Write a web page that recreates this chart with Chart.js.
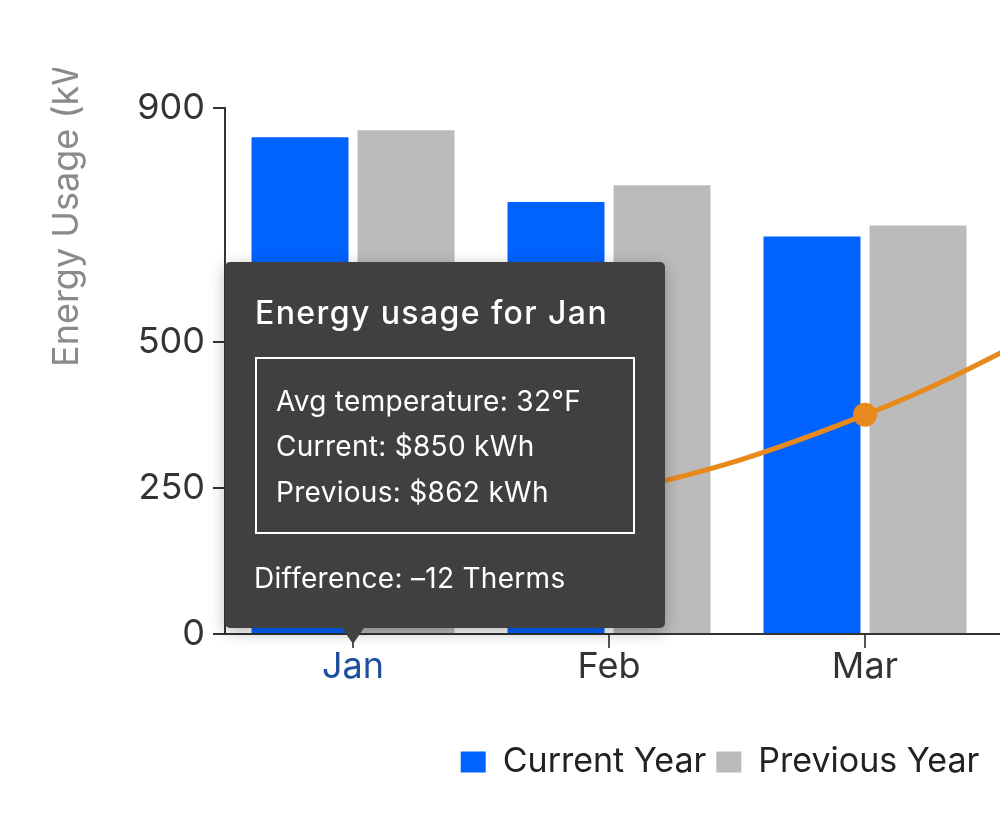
<!DOCTYPE html>
<html>
<head>
<meta charset="utf-8">
<script src="https://cdn.jsdelivr.net/npm/chart.js@4"></script>
<style>
  html, body { margin: 0; padding: 0; background: #fff; overflow: hidden; width: 1000px; height: 816px; }
  #wrap { position: absolute; left: 0; top: 68px; width: 1440px; height: 721px; }
  #c { position: absolute; left: 0; top: 0; }
  #tip { position: absolute; width: 440px; height: 366px; background: #404040; border-radius: 5px;
         box-shadow: 0 4px 16px rgba(0,0,0,0.28); font-family: Inter, sans-serif; color: #fff; display: none; }
  #tip .caret { position: absolute; left: 117px; top: 366px; width: 0; height: 0;
         border-left: 11px solid transparent; border-right: 11px solid transparent; border-top: 16px solid #404040; }
  #tip .t { position: absolute; left: 30px; font-size: 32px; font-weight: 500; line-height: 40px; letter-spacing: 1.4px; white-space: nowrap; }
  #tip .box { position: absolute; left: 30px; top: 95px; width: 376px; height: 173px; border: 2px solid #fff; }
  #tip .l { position: absolute; left: 51px; font-size: 28px; line-height: 36px; letter-spacing: 0.3px; white-space: nowrap; }
  #tip .d { position: absolute; left: 29px; font-size: 28px; line-height: 36px; letter-spacing: 0.3px; white-space: nowrap; }
</style>
</head>
<body>
<div id="wrap">
  <canvas id="c" width="1440" height="721"></canvas>
  <div id="tip">
    <div class="t" id="tipTitle"></div>
    <div class="box"></div>
    <div class="l" id="tipL1"></div>
    <div class="l" id="tipL2"></div>
    <div class="l" id="tipL3"></div>
    <div class="d" id="tipD"></div>
    <div class="caret"></div>
  </div>
</div>
<script>
// ---- data ----
const months = ['Jan', 'Feb', 'Mar', 'Apr'];
const currentYear = [850, 739, 680, 612];
const previousYear = [862, 768, 699, 645];
const avgTemp = [32, 36, 45, 59];
const yTicks = [0, 250, 500, 900];
const seriesNames = ['Current Year', 'Previous Year', 'Avg Temperature'];
const yTitle = 'Energy Usage (kWh)';
const activeIndex = 0;

const FONT = 'Inter, sans-serif';

const yTitlePlugin = {
  id: 'yTitle',
  afterDraw(chart) {
    const ctx = chart.ctx;
    const a = chart.chartArea;
    const ys = chart.scales.y;
    ctx.save();
    ctx.font = '36px ' + FONT;
    ctx.fillStyle = '#8a8a8a';
    ctx.textAlign = 'left';
    ctx.textBaseline = 'alphabetic';
    ctx.translate(ys.left + 78, (a.top + a.bottom) / 2 - 4);
    ctx.rotate(-Math.PI / 2);
    ctx.fillText(yTitle, 0, 0);
    ctx.restore();
  }
};

const tipPlugin = {
  id: 'htmlTip',
  afterRender(chart) {
    const i = activeIndex;
    const x = chart.scales.x.getPixelForValue(i);
    const bottom = chart.chartArea.bottom;
    const tip = document.getElementById('tip');
    tip.style.display = 'block';
    tip.style.left = (x - 128) + 'px';
    tip.style.top = (bottom - 6 - 366) + 'px';
    const diff = currentYear[i] - previousYear[i];
    const t = document.getElementById('tipTitle');
    t.textContent = 'Energy usage for ' + months[i];
    t.style.top = '31px';
    const l1 = document.getElementById('tipL1');
    l1.textContent = 'Avg temperature: ' + avgTemp[i] + '°F';
    l1.style.top = '121px';
    const l2 = document.getElementById('tipL2');
    l2.textContent = 'Current: $' + currentYear[i] + ' kWh';
    l2.style.top = '166px';
    const l3 = document.getElementById('tipL3');
    l3.textContent = 'Previous: $' + previousYear[i] + ' kWh';
    l3.style.top = '212px';
    const d = document.getElementById('tipD');
    d.textContent = 'Difference: ' + (diff < 0 ? '–' + Math.abs(diff) : diff) + ' Therms';
    d.style.top = '298px';
  }
};

new Chart(document.getElementById('c'), {
  type: 'bar',
  data: {
    labels: months,
    datasets: [
      {
        type: 'line',
        label: seriesNames[2],
        data: avgTemp,
        yAxisID: 'y1',
        borderColor: '#E8891C',
        backgroundColor: '#E8891C',
        borderWidth: 5,
        pointRadius: 12,
        pointBackgroundColor: '#E8891C',
        pointBorderWidth: 0,
        tension: 0.4,
        order: 0
      },
      {
        label: seriesNames[0],
        data: currentYear,
        backgroundColor: '#0062FF',
        barPercentage: 0.915,
        categoryPercentage: 0.828,
        order: 1
      },
      {
        label: seriesNames[1],
        data: previousYear,
        backgroundColor: '#BBBBBB',
        barPercentage: 0.915,
        categoryPercentage: 0.828,
        order: 1
      }
    ]
  },
  options: {
    responsive: false,
    animation: false,
    layout: { padding: { top: 40, left: 0, right: 0, bottom: 0 } },
    scales: {
      x: {
        offset: true,
        grid: { offset: false, drawOnChartArea: false, drawTicks: true, tickLength: 14, color: '#555', lineWidth: 2 },
        border: { display: true, color: '#333', width: 2 },
        ticks: {
          padding: 1,
          font: { family: FONT, size: 36, lineHeight: 1.0 },
          color: (c) => c.index === activeIndex ? '#1d4f9e' : '#333'
        },
        afterFit(scale) { scale.height = 101; }
      },
      y: {
        min: 0,
        max: 900,
        grid: { drawOnChartArea: false, drawTicks: true, tickLength: 12, color: '#333', lineWidth: 2 },
        border: { display: true, color: '#333', width: 2 },
        ticks: { padding: 8, font: { family: FONT, size: 36 }, color: '#333' },
        afterBuildTicks(scale) { scale.ticks = yTicks.map(v => ({ value: v })); },
        afterFit(scale) { scale.width = 225; }
      },
      y1: {
        position: 'right',
        min: 20,
        max: 80,
        grid: { drawOnChartArea: false },
        border: { display: true, color: '#333', width: 2 },
        ticks: { font: { family: FONT, size: 36 }, color: '#333' },
        afterFit(scale) { scale.width = 191; }
      }
    },
    plugins: {
      legend: {
        position: 'bottom',
        labels: {
          filter: (item) => item.datasetIndex !== 0,
          font: { family: FONT, size: 34 },
          color: '#222',
          boxWidth: 25,
          boxHeight: 21,
          padding: 10
        }
      },
      tooltip: { enabled: false }
    }
  },
  plugins: [yTitlePlugin, tipPlugin]
});
</script>
</body>
</html>
